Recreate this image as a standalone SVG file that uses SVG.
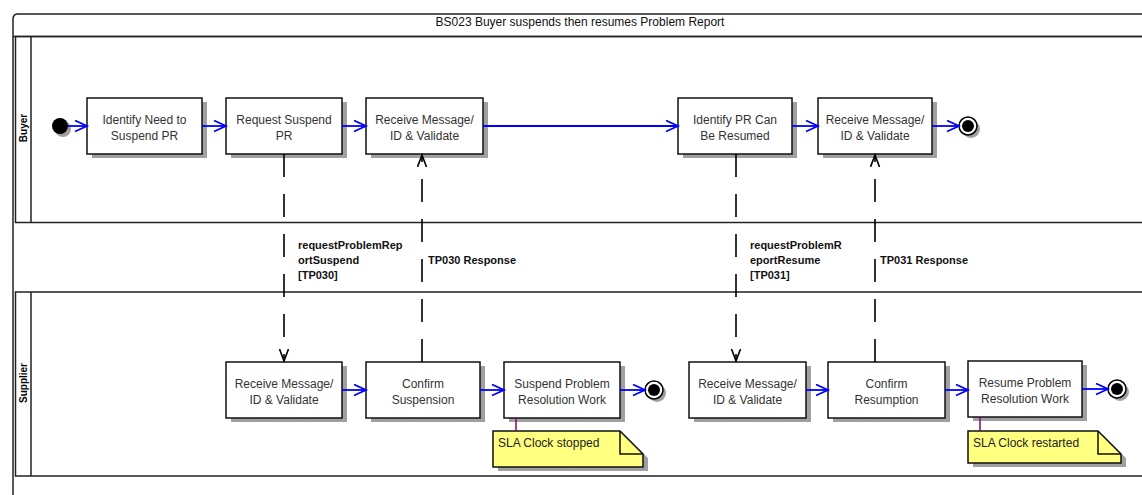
<svg xmlns="http://www.w3.org/2000/svg" width="1142" height="495" viewBox="0 0 1142 495">
<style>
.frame{fill:none;stroke:#222;stroke-width:1.5}
.box{fill:#fff;stroke:#111;stroke-width:1.5}
.shadow{fill:#a0a0a0;stroke:none}
.bt{font-family:"Liberation Sans",Arial,sans-serif;font-size:12px;fill:#333;text-anchor:middle}
.lbl{font-family:"Liberation Sans",Arial,sans-serif;font-size:11px;font-weight:bold;fill:#111}
.lane{font-family:"Liberation Sans",Arial,sans-serif;font-size:10px;font-weight:bold;fill:#000;text-anchor:middle}
.flow{fill:none;stroke:#0000ff;stroke-width:1.8;marker-end:url(#ab)}
.msg{fill:none;stroke:#000;stroke-width:1.6;stroke-dasharray:23 17;marker-end:url(#ak)}
.note{fill:#ffff80;stroke:#111;stroke-width:1.5}
.nt{font-family:"Liberation Sans",Arial,sans-serif;font-size:12px;fill:#222}
.link{stroke:#800080;stroke-width:1.5}
</style>
<defs>
<marker id="ab" markerUnits="userSpaceOnUse" markerWidth="16" markerHeight="14" refX="13" refY="6" orient="auto">
<path d="M1,0.5 L13,6 L1,11.5" fill="none" stroke="#0000ff" stroke-width="1.8"/>
</marker>
<marker id="ak" markerUnits="userSpaceOnUse" markerWidth="14" markerHeight="12" refX="12" refY="5" orient="auto">
<path d="M0,0.5 L12,5 L0,9.5" fill="none" stroke="#000" stroke-width="1.6"/>
</marker>
</defs>
<rect width="1142" height="495" fill="#fff"/>
<g id="frame">
<path class="frame" d="M13,500 L13,19 Q13,14 18,14 L1150,14"/>
<line class="frame" x1="13" y1="36.5" x2="1150" y2="36.5"/>
<text x="580" y="26" font-family="Liberation Sans,Arial,sans-serif" font-size="12" fill="#111" text-anchor="middle">BS023 Buyer suspends then resumes Problem Report</text>
</g>
<g id="lane-buyer">
<rect class="frame" x="15.5" y="36.5" width="1140" height="186"/>
<line class="frame" x1="31" y1="36.5" x2="31" y2="222.5"/>
<text class="lane" transform="translate(26.5,128) rotate(-90)">Buyer</text>
</g>
<g id="lane-supplier">
<rect class="frame" x="15.5" y="292" width="1140" height="184"/>
<line class="frame" x1="31" y1="292" x2="31" y2="476"/>
<text class="lane" transform="translate(26.5,383) rotate(-90)">Supplier</text>
</g>
<g id="start">
<circle cx="63" cy="129" r="8" class="shadow"/>
<circle cx="60" cy="126" r="8" fill="#000"/>
</g>
<g id="b1"><rect class="shadow" x="92" y="102" width="115" height="56"/><rect class="box" x="87" y="98" width="115" height="56"/><text class="bt" x="144.5" y="124">Identify Need to</text><text class="bt" x="144.5" y="139.5">Suspend PR</text></g>
<g id="b2"><rect class="shadow" x="231" y="102" width="116" height="56"/><rect class="box" x="226" y="98" width="116" height="56"/><text class="bt" x="284" y="124">Request Suspend</text><text class="bt" x="284" y="139.5">PR</text></g>
<g id="b3"><rect class="shadow" x="371" y="102" width="117" height="56"/><rect class="box" x="366" y="98" width="117" height="56"/><text class="bt" x="424.5" y="124">Receive Message/</text><text class="bt" x="424.5" y="139.5">ID &amp; Validate</text></g>
<g id="b4"><rect class="shadow" x="683" y="102" width="114" height="56"/><rect class="box" x="678" y="98" width="114" height="56"/><text class="bt" x="735" y="124">Identify PR Can</text><text class="bt" x="735" y="139.5">Be Resumed</text></g>
<g id="b5"><rect class="shadow" x="823" y="102" width="114" height="56"/><rect class="box" x="818" y="98" width="114" height="56"/><text class="bt" x="875" y="124">Receive Message/</text><text class="bt" x="875" y="139.5">ID &amp; Validate</text></g>
<g id="endb"><circle class="shadow" cx="971" cy="129" r="9"/><circle cx="968" cy="126" r="9" fill="#fff" stroke="#000" stroke-width="1.5"/><circle cx="968" cy="126" r="6" fill="#000"/></g>
<g id="s1"><rect class="shadow" x="231" y="366" width="116" height="56"/><rect class="box" x="226" y="362" width="116" height="56"/><text class="bt" x="284" y="388">Receive Message/</text><text class="bt" x="284" y="403.5">ID &amp; Validate</text></g>
<g id="s2"><rect class="shadow" x="371" y="366" width="114" height="56"/><rect class="box" x="366" y="362" width="114" height="56"/><text class="bt" x="423" y="388">Confirm</text><text class="bt" x="423" y="403.5">Suspension</text></g>
<g id="s3"><rect class="shadow" x="509" y="366" width="116" height="56"/><rect class="box" x="504" y="362" width="116" height="56"/><text class="bt" x="562" y="388">Suspend Problem</text><text class="bt" x="562" y="403.5">Resolution Work</text></g>
<g id="ends1"><circle class="shadow" cx="657" cy="393" r="9"/><circle cx="654" cy="390" r="9" fill="#fff" stroke="#000" stroke-width="1.5"/><circle cx="654" cy="390" r="6" fill="#000"/></g>
<g id="s4"><rect class="shadow" x="694" y="366" width="117" height="56"/><rect class="box" x="689" y="362" width="117" height="56"/><text class="bt" x="747.5" y="388">Receive Message/</text><text class="bt" x="747.5" y="403.5">ID &amp; Validate</text></g>
<g id="s5"><rect class="shadow" x="833" y="366" width="117" height="56"/><rect class="box" x="828" y="362" width="117" height="56"/><text class="bt" x="886.5" y="388">Confirm</text><text class="bt" x="886.5" y="403.5">Resumption</text></g>
<g id="s6"><rect class="shadow" x="973" y="365" width="114" height="56"/><rect class="box" x="968" y="361" width="114" height="56"/><text class="bt" x="1025" y="387">Resume Problem</text><text class="bt" x="1025" y="402.5">Resolution Work</text></g>
<g id="ends2"><circle class="shadow" cx="1120" cy="392" r="9"/><circle cx="1117" cy="389" r="9" fill="#fff" stroke="#000" stroke-width="1.5"/><circle cx="1117" cy="389" r="6" fill="#000"/></g>
<g id="note1">
<polygon class="shadow" points="498,435 625,435 648,458 648,471 498,471"/>
<polygon class="note" points="493,431 620,431 643,454 643,467 493,467"/>
<polyline points="620,431 620,454 643,454" fill="none" stroke="#111" stroke-width="1.5"/>
<text class="nt" x="498" y="447">SLA Clock stopped</text>
</g>
<g id="note2">
<polygon class="shadow" points="973,435 1103,435 1126,458 1126,467 973,467"/>
<polygon class="note" points="968,431 1098,431 1121,454 1121,463 968,463"/>
<polyline points="1098,431 1098,454 1121,454" fill="none" stroke="#111" stroke-width="1.5"/>
<text class="nt" x="973" y="447">SLA Clock restarted</text>
</g>
<g id="connectors">
<line class="flow" x1="68" y1="126" x2="87" y2="126"/>
<line class="flow" x1="202" y1="126" x2="226" y2="126"/>
<line class="flow" x1="342" y1="126" x2="366" y2="126"/>
<line class="flow" x1="483" y1="126" x2="678" y2="126"/>
<line class="flow" x1="792" y1="126" x2="818" y2="126"/>
<line class="flow" x1="932" y1="126" x2="959" y2="126"/>
<line class="flow" x1="342" y1="390" x2="366" y2="390"/>
<line class="flow" x1="480" y1="390" x2="504" y2="390"/>
<line class="flow" x1="620" y1="390" x2="645" y2="390"/>
<line class="flow" x1="806" y1="390" x2="828" y2="390"/>
<line class="flow" x1="945" y1="390" x2="968" y2="390"/>
<line class="flow" x1="1082" y1="389" x2="1108" y2="389"/>
<line class="msg" x1="284" y1="154" x2="284" y2="361"/>
<line class="msg" x1="422" y1="362" x2="422" y2="155"/>
<line class="msg" x1="736" y1="154" x2="736" y2="361"/>
<line class="msg" x1="875" y1="362" x2="875" y2="155"/>
<line class="link" x1="516" y1="418" x2="516" y2="431"/>
<line class="link" x1="980" y1="417" x2="980" y2="431"/>
<text class="lbl" x="298" y="249">requestProblemRep</text>
<text class="lbl" x="298" y="264">ortSuspend</text>
<text class="lbl" x="298" y="279">[TP030]</text>
<text class="lbl" x="428" y="264">TP030 Response</text>
<text class="lbl" x="750" y="249">requestProblemR</text>
<text class="lbl" x="750" y="264">eportResume</text>
<text class="lbl" x="750" y="279">[TP031]</text>
<text class="lbl" x="880" y="264">TP031 Response</text>
</g>
</svg>
